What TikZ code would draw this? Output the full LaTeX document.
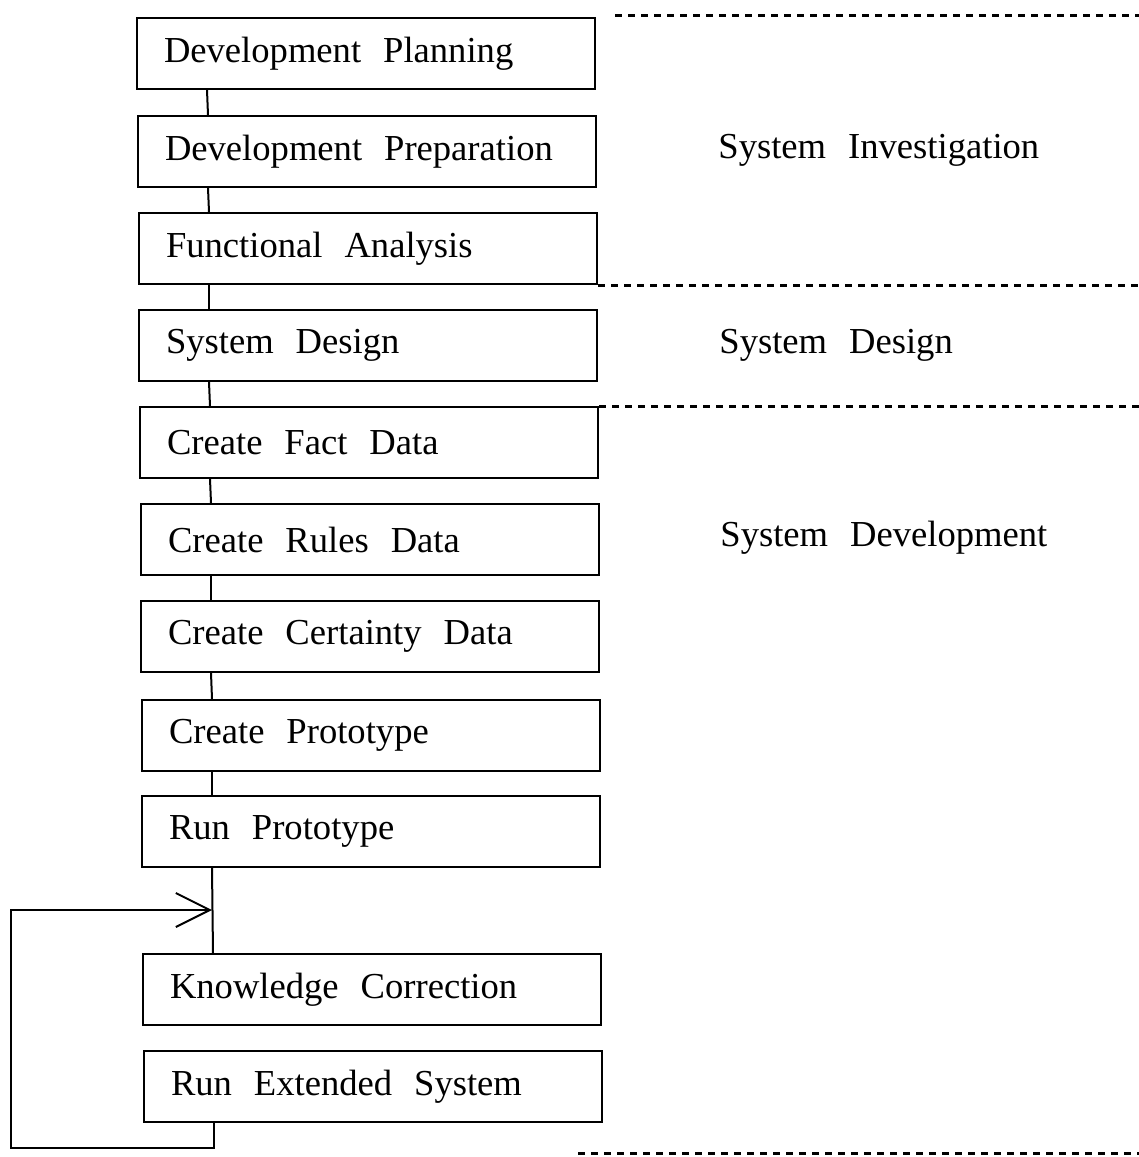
\documentclass[tikz,border=0pt]{standalone}
\usepackage{fontspec}
\setmainfont{Liberation Serif}[WordSpace=2.4]
\usetikzlibrary{arrows.meta}
\newcommand{\bx}[1]{\makebox[202pt][l]{#1}}
\begin{document}
\begin{tikzpicture}[x=0.5pt,y=-0.5pt,
  box/.style={draw,line width=1pt,anchor=north west,minimum width=229pt,minimum height=35.5pt,
    inner xsep=13.5pt,font=\fontsize{18.3}{20}\selectfont},
  lbl/.style={anchor=west,inner sep=0pt,font=\fontsize{18.3}{20}\selectfont},
  conn/.style={line width=1pt},
  dashline/.style={line width=1.5pt,dash pattern=on 3.5pt off 3pt}]
\useasboundingbox (0,0) rectangle (1139,1157);
\node[box] (b1) at (136,17) {\bx{Development Planning}};
\node[box] (b2) at (137,115) {\bx{Development Preparation}};
\node[box] (b3) at (138,212) {\bx{Functional Analysis}};
\node[box] (b4) at (138,309) {\bx{System Design}};
\node[box] (b5) at (139,406) {\bx{Create Fact Data}};
\node[box] (b6) at (140,503) {\bx{Create Rules Data}};
\node[box] (b7) at (140,600) {\bx{Create Certainty Data}};
\node[box] (b8) at (141,699) {\bx{Create Prototype}};
\node[box] (b9) at (141,795) {\bx{Run Prototype}};
\node[box] (b10) at (142,953) {\bx{Knowledge Correction}};
\node[box] (b11) at (143,1050) {\bx{Run Extended System}};
\foreach \a/\b in {b1/b2,b2/b3,b3/b4,b4/b5,b5/b6,b6/b7,b7/b8,b8/b9,b9/b10}
  \draw[conn] ([xshift=35.5pt]\a.south west) -- ([xshift=35.5pt]\b.north west);
\coordinate (join) at (212,910);
\coordinate (lb) at (11,1148);
\draw[conn,-{Straight Barb[length=17pt,width=17pt,line width=1pt]}]
  ([xshift=35.5pt]b11.south west) |- (lb) |- (join);
\node[lbl] (l1) at (718,150) {System Investigation};
\node[lbl] (l2) at (719,345) {System Design};
\node[lbl] (l3) at (720,538) {System Development};
\coordinate (R) at (1139,0);
\coordinate (t0) at (615,15);
\coordinate (t3) at (578,1153);
\draw[dashline] (t0) -- (t0 -| R);
\draw[dashline] (b3.south east) -- (b3.south east -| R);
\draw[dashline] (b5.north east) -- (b5.north east -| R);
\draw[dashline] (t3) -- (t3 -| R);
\end{tikzpicture}
\end{document}
